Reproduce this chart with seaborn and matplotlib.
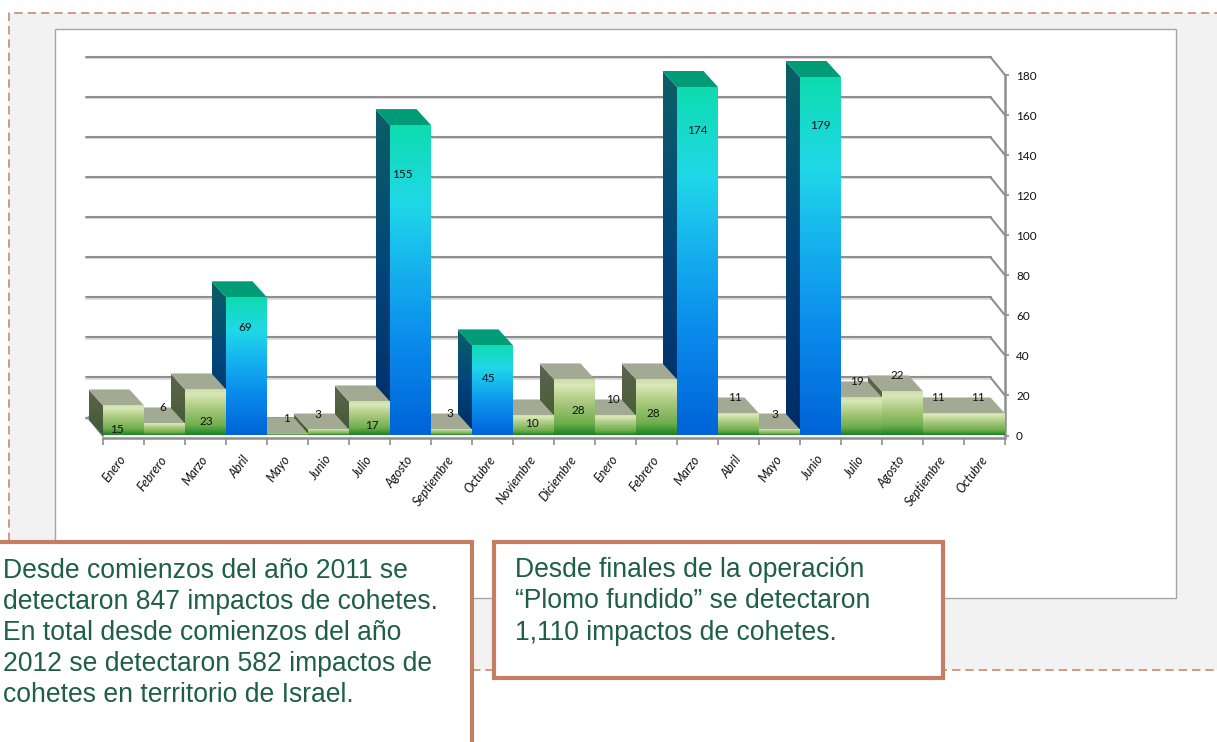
import numpy as np
import pandas as pd
import matplotlib
matplotlib.use("Agg")
import matplotlib.pyplot as plt
from matplotlib.colors import LinearSegmentedColormap as LSC
from matplotlib.patches import Polygon, Rectangle
import seaborn as sns

meses = ["Enero", "Febrero", "Marzo", "Abril", "Mayo", "Junio", "Julio", "Agosto",
         "Septiembre", "Octubre", "Noviembre", "Diciembre", "Enero", "Febrero",
         "Marzo", "Abril", "Mayo", "Junio", "Julio", "Agosto", "Septiembre", "Octubre"]
impactos = [15, 6, 23, 69, 1, 3, 17, 155, 3, 45, 10, 28, 10, 28, 174, 11, 3, 179, 19, 22, 11, 11]
# label shift from the top-centre of each bar's front face, in pixels
label_dx = [-7, -2, 1, -1, -1, -11, 2, -8, -2, -4, -2, 4, -3, -3, 0, -4, -5, 0, -5, -5, -6, -7]
label_dy = [-24, 16, -32, -30, 15, 15, -24, -49, 16, -33, -8, -31, 16, -34, -43, 16, 15, -48, 16, 16, 16, 16]
texto_izq = ("Desde comienzos del año 2011 se\ndetectaron 847 impactos de cohetes.\n"
             "En total desde comienzos del año\n2012 se detectaron 582 impactos de\n"
             "cohetes en territorio de Israel.")
texto_der = ("Desde finales de la operación\n“Plomo fundido” se detectaron\n"
             "1,110 impactos de cohetes.")

W, H = 1217, 742
sns.set_theme(style="white")
plt.rcParams["font.family"] = ["Lato", "DejaVu Sans"]
fig = plt.figure(figsize=(W / 100, H / 100), dpi=100, facecolor="white")

# page furniture in pixel coordinates
bg = fig.add_axes([0, 0, 1, 1], zorder=0)
bg.set_xlim(0, W); bg.set_ylim(H, 0); bg.axis("off")
DASH = "#c98a6c"
bg.add_patch(Rectangle((9, 13), W, 657, fc="#f2f2f2", ec="none"))
bg.plot([9, 9, W], [541, 13, 13], color=DASH, lw=1.2, ls=(0, (5, 3)))
bg.plot([472, W], [670, 670], color=DASH, lw=1.2, ls=(0, (5, 3)))
bg.add_patch(Rectangle((55, 29), 1121, 569, fc="white", ec="#a6a6a6", lw=1))

# chart: the axes rectangle is the front plane of the fake 3D box
x0, x1, y0, y1 = 103, 1005, 435.5, 75
ax = fig.add_axes([x0 / W, 1 - y0 / H, (x1 - x0) / W, (y0 - y1) / H], zorder=1)
ax.patch.set_alpha(0)
df = pd.DataFrame({"pos": np.arange(len(impactos)), "valor": impactos})
sns.barplot(data=df, x="pos", y="valor", width=1, color="#20a0e0", ax=ax, zorder=5)

px_x = 22 / (x1 - x0)
px_y = 180 / (y0 - y1)
dx, dy = -14.5 * px_x, 16 * px_y
grid_dy = 18 * px_y

front_b = LSC.from_list("fb", [(0, "#0064d8"), (.3, "#0a8cec"), (.55, "#17b4ee"),
                               (.75, "#20d8e8"), (1, "#0edcb0")])
side_b = LSC.from_list("sb", ["#002c66", "#03457a", "#0c5f66"])
front_g = LSC.from_list("fg", [(0, "#1a8426"), (.2, "#6fae4c"), (.6, "#aecb82"),
                               (.88, "#d8e8b8"), (1, "#c8dca4")])
side_g = LSC.from_list("sg", ["#3c5a34", "#50603f", "#5c6452"])


def shade(verts, cmap, z):
    v = np.array(verts)
    grad = np.linspace(1, 0, 64).reshape(-1, 1)
    im = ax.imshow(grad, cmap=cmap, aspect="auto", zorder=z, interpolation="bilinear",
                   extent=(v[:, 0].min(), v[:, 0].max(), v[:, 1].min(), v[:, 1].max()))
    im.set_clip_box(fig.bbox)
    im.set_clip_path(Polygon(v, closed=True, transform=ax.transData))


n = len(ax.patches)
for i, bar in enumerate(ax.patches):
    a, w, v = bar.get_x(), bar.get_width(), bar.get_height()
    bar.set_visible(False)
    z = 10 + 3 * (n - i)
    tall = v >= 45
    shade([(a, 0), (a + dx, dy), (a + dx, v + dy), (a, v)], side_b if tall else side_g, z)
    ax.add_patch(Polygon([(a, v), (a + dx, v + dy), (a + w + dx, v + dy), (a + w, v)],
                         fc="#009c78" if tall else "#a3aa94", ec="none", zorder=z + 1,
                         clip_on=False))
    shade([(a, 0), (a, v), (a + w, v), (a + w, 0)], front_b if tall else front_g, z + 2)
    ax.annotate(str(impactos[i]), (a + w / 2, v), xytext=(label_dx[i], label_dy[i]),
                textcoords="offset pixels", ha="center", va="center", fontsize=8.5,
                color="#111111", zorder=200, annotation_clip=False)

# back wall grid, and its diagonal run to the right axis
GRID = "#8f8f8f"
ymax = 180
for g in range(0, ymax + 1, 20):
    right = n - 0.5
    ax.plot([-0.5 + dx - 2 * px_x, right + dx], [g + grid_dy - 0.6] * 2, color="#d4d4d4", lw=1.2,
            zorder=2, clip_on=False)
    ax.plot([-0.5 + dx - 2 * px_x, right + dx], [g + grid_dy] * 2, color=GRID, lw=1.5,
            zorder=3, clip_on=False)
    ax.plot([right + dx, right], [g + grid_dy, g], color=GRID, lw=1.5, zorder=3, clip_on=False)
ax.plot([-0.5 + dx, -0.5], [grid_dy, 0], color=GRID, lw=2, zorder=3, clip_on=False)

ax.set_xlim(-0.5, n - 0.5)
ax.set_ylim(0, ymax)
ax.set_xlabel(""); ax.set_ylabel("")
for s in ("top", "left"):
    ax.spines[s].set_visible(False)
ax.spines["right"].set_color(GRID); ax.spines["right"].set_linewidth(1.8)
ax.spines["right"].set_zorder(4)
ax.spines["bottom"].set_color(GRID); ax.spines["bottom"].set_linewidth(1.8)
ax.spines["bottom"].set_position(("outward", 1.5))  # resets the ticks: keep before tick styling

ax.yaxis.tick_right()
ax.set_yticks(range(0, ymax + 1, 20))
ax.tick_params(axis="y", length=3, width=1.2, color=GRID, pad=5, labelsize=8.5,
               labelcolor="#111111", right=True, left=False)
ax.set_xticks(np.arange(n))
ax.set_xticklabels(meses)
ax.set_xticks(np.arange(n + 1) - 0.5, minor=True)
ax.tick_params(axis="x", which="major", length=0, pad=14, bottom=True)
ax.tick_params(axis="x", which="minor", length=5, width=1.2, color=GRID, bottom=True)
plt.setp(ax.get_xticklabels(), rotation=53, ha="right", va="center", rotation_mode="anchor",
         fontsize=9, fontstyle="italic", color="#111111")

# call-out boxes, in pixel coordinates, over everything
top = fig.add_axes([0, 0, 1, 1], zorder=5)
top.set_xlim(0, W); top.set_ylim(H, 0); top.axis("off"); top.patch.set_alpha(0)
EDGE = "#c47f62"
INK = "#1f5f4a"
top.add_patch(Rectangle((-10, 542), 482, 220, fc="white", ec=EDGE, lw=3, clip_on=True))
top.add_patch(Rectangle((494, 542), 449, 136, fc="white", ec=EDGE, lw=3))
top.text(3, 558, texto_izq, ha="left", va="top", fontsize=19.1, color=INK,
         family=["Liberation Sans", "DejaVu Sans"], linespacing=1.25)
top.text(515, 557, texto_der, ha="left", va="top", fontsize=19.1, color=INK,
         family=["Liberation Sans", "DejaVu Sans"], linespacing=1.27)

fig.savefig("out.png", dpi=100)
